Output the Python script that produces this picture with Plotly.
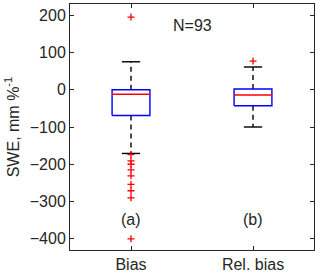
import plotly.graph_objects as go

categories = ["Bias", "Rel. bias"]
panel_labels = ["(a)", "(b)"]
q1 = [-69, -43]
median = [-12, -14]
q3 = [0, 2]
lower_whisker = [-171, -100]
upper_whisker = [75, 61]
outliers = [
    [195, -174, -191, -200, -215, -231, -254, -271, -290, -400],
    [77],
]
n_label = "N=93"

FONT = "Arial, Liberation Sans, sans-serif"
HALF_BOX = 0.155
HALF_CAP = 0.075

fig = go.Figure()
for i, cat in enumerate(categories):
    x = i + 1
    fig.add_trace(go.Scatter(x=[x, x, None, x, x],
                             y=[q3[i], upper_whisker[i], None, q1[i], lower_whisker[i]],
                             mode="lines", line=dict(color="black", width=1.4, dash="5px,4px"),
                             hoverinfo="skip", showlegend=False))
    fig.add_trace(go.Scatter(x=[x - HALF_CAP, x + HALF_CAP, None, x - HALF_CAP, x + HALF_CAP],
                             y=[upper_whisker[i], upper_whisker[i], None, lower_whisker[i], lower_whisker[i]],
                             mode="lines", line=dict(color="black", width=1.4),
                             hoverinfo="skip", showlegend=False))
    fig.add_trace(go.Scatter(x=[x - HALF_BOX, x + HALF_BOX, x + HALF_BOX, x - HALF_BOX, x - HALF_BOX],
                             y=[q1[i], q1[i], q3[i], q3[i], q1[i]],
                             mode="lines", line=dict(color="#0000ff", width=1.4),
                             hoverinfo="skip", showlegend=False))
    fig.add_trace(go.Scatter(x=[x - HALF_BOX, x + HALF_BOX], y=[median[i], median[i]],
                             mode="lines", line=dict(color="#ff0000", width=1.4),
                             hoverinfo="skip", showlegend=False))
    fig.add_trace(go.Scatter(x=[x] * len(outliers[i]), y=outliers[i], mode="markers",
                             marker=dict(symbol="cross-thin", size=5,
                                         line=dict(color="#ff0000", width=1.3)),
                             showlegend=False))
    fig.add_annotation(x=x, y=-349, text=panel_labels[i], showarrow=False,
                       font=dict(family=FONT, size=16, color="#262626"))

fig.add_annotation(x=1.5, y=173, text=n_label, showarrow=False,
                   font=dict(family=FONT, size=16, color="#262626"))

fig.update_layout(
    width=320, height=276,
    margin=dict(l=70, r=6, t=4, b=26),
    plot_bgcolor="white", paper_bgcolor="white",
    font=dict(family=FONT, size=16, color="#262626"),
    xaxis=dict(range=[0.5, 2.5], tickvals=[1, 2], ticktext=categories,
               ticks="inside", ticklen=4, tickcolor="#262626",
               showline=True, linecolor="#262626", linewidth=1, mirror="allticks",
               showgrid=False, zeroline=False, automargin=False),
    yaxis=dict(range=[-430, 230], tickvals=[-400, -300, -200, -100, 0, 100, 200],
               ticks="inside", ticklen=4, tickcolor="#262626",
               showline=True, linecolor="#262626", linewidth=1, mirror="allticks",
               showgrid=False, zeroline=False, automargin=False,
               title=dict(text="SWE, mm %<sup>-1</sup>", standoff=6,
                          font=dict(family=FONT, size=16))),
)

fig.write_html("out.html", config={"displayModeBar": False},
               post_script="document.body.style.margin='0';document.body.style.overflow='hidden';")
